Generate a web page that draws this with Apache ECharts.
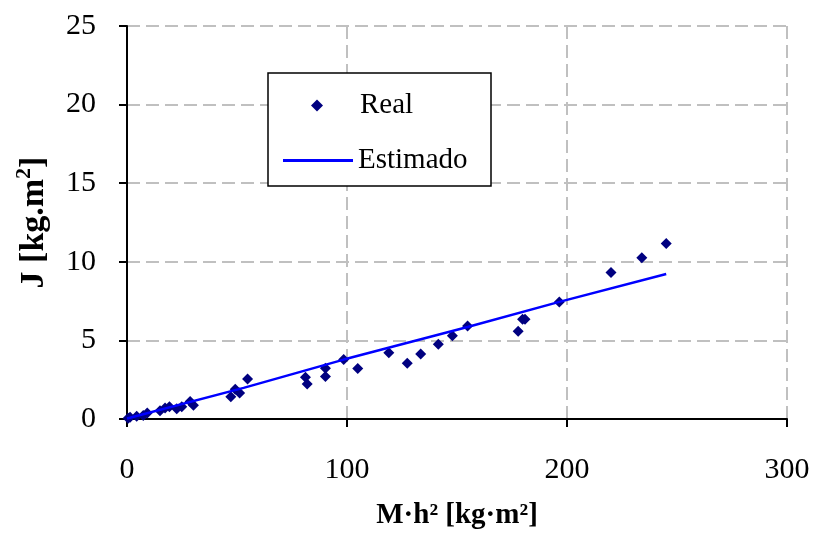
<!DOCTYPE html>
<html><head><meta charset="utf-8">
<script src="https://cdn.jsdelivr.net/npm/echarts@6/dist/echarts.min.js"></script>
<style>html,body{margin:0;padding:0;background:#fff}#c{width:814px;height:535px}</style>
</head><body><div id="c"></div>
<script>
const realX = [0.5,1.4,4.4,7.4,9.2,15.0,17.3,19.3,22.6,24.9,28.7,30.2,47.2,49.2,51.2,54.8,81.1,81.9,90.2,90.2,98.5,104.9,119.0,127.4,133.5,141.5,147.9,154.8,177.8,179.8,180.9,196.5,220.0,234.0,245.1];
const realY = [0.05,0.11,0.17,0.23,0.38,0.53,0.70,0.78,0.65,0.78,1.12,0.87,1.41,1.90,1.65,2.55,2.66,2.22,3.23,2.70,3.78,3.21,4.22,3.54,4.13,4.75,5.30,5.91,5.59,6.35,6.35,7.45,9.32,10.25,11.16];
const estX = [0,53,98.5,154.8,196.5,245.1];
const estY = [0.03,1.98,3.78,5.85,7.45,9.22];
const xTicks = [0,100,200,300];
const yTicks = [0,5,10,15,20,25];

const FONT = '"Liberation Serif","Times New Roman",serif';
const chart = echarts.init(document.getElementById('c'), null, {renderer:'canvas'});
const grid = {color:'#c0c0c0', width:2, type:[13,6]};
chart.setOption({
  backgroundColor:'#fff',
  animation:false,
  grid:{left:127,right:27,top:26,bottom:114},
  xAxis:{type:'value',min:xTicks[0],max:xTicks[xTicks.length-1],interval:xTicks[1]-xTicks[0],
    name:'M·h² [kg·m²]',nameLocation:'middle',nameGap:82,
    nameTextStyle:{fontFamily:FONT,fontSize:29,fontWeight:'bold',color:'#000'},
    axisLine:{lineStyle:{color:'#000',width:2}},
    axisTick:{show:true,inside:false,length:8,lineStyle:{color:'#000',width:2}},
    axisLabel:{margin:36,fontFamily:FONT,fontSize:30,color:'#000'},
    splitLine:{show:true,lineStyle:grid}},
  yAxis:{type:'value',min:yTicks[0],max:yTicks[yTicks.length-1],interval:yTicks[1]-yTicks[0],
    name:'{a|J [kg.m}{s|2}{a|]}',nameLocation:'middle',nameGap:76,
    nameTextStyle:{fontFamily:FONT,fontSize:34,fontWeight:'bold',color:'#000',
      rich:{a:{fontFamily:FONT,fontSize:34,fontWeight:'bold',color:'#000',lineHeight:40,verticalAlign:'bottom'},
            s:{fontFamily:FONT,fontSize:22,fontWeight:'bold',color:'#000',lineHeight:40,verticalAlign:'top',padding:[2,0,0,0]}}},
    axisLine:{show:true,lineStyle:{color:'#000',width:2}},
    axisTick:{show:true,inside:false,length:8,lineStyle:{color:'#000',width:2}},
    axisLabel:{margin:31,fontFamily:FONT,fontSize:30,color:'#000'},
    splitLine:{show:true,lineStyle:grid}},
  graphic:[{type:'rect',z:90,shape:{x:268,y:73,width:223,height:113},
    style:{fill:'#fff',stroke:'#000',lineWidth:1.5}}],
  legend:[
    {z:100,left:311,top:91,padding:0,itemWidth:12,itemHeight:12,itemGap:6,
     data:[{name:'Real',icon:'diamond',itemStyle:{color:'#000080',opacity:1}}],
     textStyle:{fontFamily:FONT,fontSize:29,color:'#000',padding:[0,0,0,32]}},
    {z:100,left:283,top:146,padding:0,itemWidth:70,itemHeight:3,itemGap:6,
     data:[{name:'Estimado',icon:'rect',itemStyle:{color:'#0000ff'}}],
     textStyle:{fontFamily:FONT,fontSize:29,color:'#000'}}
  ],
  series:[
    {name:'Real',type:'scatter',symbol:'diamond',symbolSize:11,itemStyle:{color:'#000080',opacity:1},z:3,
     data:realX.map((x,i)=>[x,realY[i]])},
    {name:'Estimado',type:'line',symbol:'none',lineStyle:{color:'#0000ff',width:2.5},itemStyle:{color:'#0000ff'},z:4,
     data:estX.map((x,i)=>[x,estY[i]])}
  ]
});
</script></body></html>
